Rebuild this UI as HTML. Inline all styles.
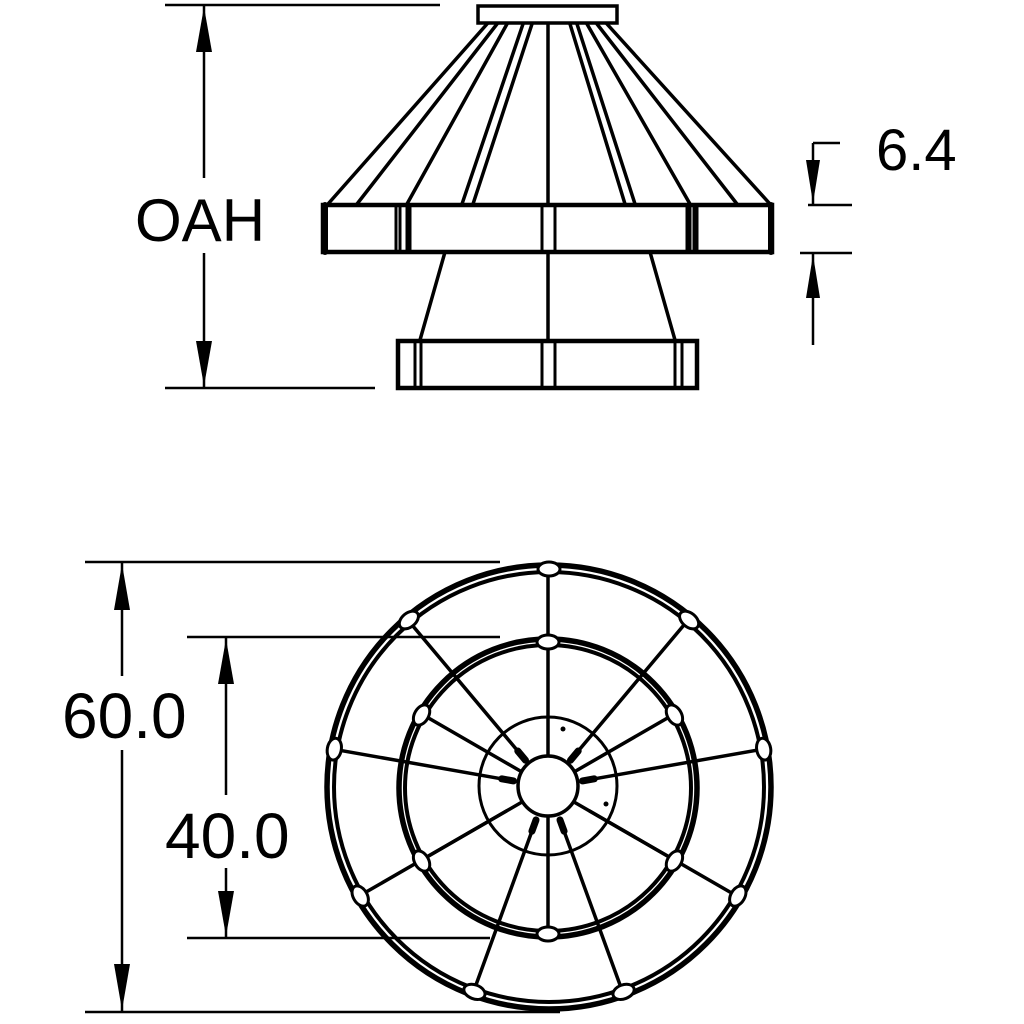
<!DOCTYPE html>
<html><head><meta charset="utf-8"><style>
html,body{margin:0;padding:0;background:#fff;}
svg{display:block;}
text{font-family:"Liberation Sans",sans-serif;fill:#000;}
</style></head><body>
<svg width="1024" height="1024" viewBox="0 0 1024 1024" xmlns="http://www.w3.org/2000/svg">
<rect width="1024" height="1024" fill="#fff"/>
<!-- ELEVATION -->
<g stroke="#000" fill="none" stroke-linecap="round">
  <rect x="478" y="6" width="139" height="17" stroke-width="3.5" fill="#fff"/>
  <g stroke-width="3.5">
    <line x1="487" y1="24" x2="328" y2="204"/>
    <line x1="497" y1="24" x2="357" y2="204"/>
    <line x1="507" y1="24" x2="407" y2="204"/>
    <line x1="523" y1="24" x2="462" y2="204"/>
    <line x1="532" y1="24" x2="473" y2="204"/>
    <line x1="548" y1="24" x2="548" y2="204"/>
    <line x1="570" y1="24" x2="625" y2="204"/>
    <line x1="577" y1="24" x2="635" y2="204"/>
    <line x1="587" y1="24" x2="690" y2="204"/>
    <line x1="597" y1="24" x2="737" y2="204"/>
    <line x1="607" y1="24" x2="770" y2="204"/>
    <line x1="445" y1="252" x2="420" y2="340"/>
    <line x1="548" y1="252" x2="548" y2="340"/>
    <line x1="650" y1="252" x2="675" y2="340"/>
  </g>
  <rect x="323" y="205" width="449" height="47" stroke-width="4.5" fill="none"/>
  <line x1="325" y1="205" x2="325" y2="252" stroke-width="6"/>
  <line x1="771" y1="205" x2="771" y2="252" stroke-width="6"/>
  <g stroke-width="3">
    <line x1="396" y1="205" x2="396" y2="252"/><line x1="400" y1="205" x2="400" y2="252"/>
    <line x1="407" y1="205" x2="407" y2="252"/><line x1="410" y1="205" x2="410" y2="252"/>
    <line x1="542" y1="205" x2="542" y2="252"/><line x1="555" y1="205" x2="555" y2="252"/>
    <line x1="687" y1="205" x2="687" y2="252"/><line x1="690" y1="205" x2="690" y2="252"/>
    <line x1="694" y1="205" x2="694" y2="252"/><line x1="697" y1="205" x2="697" y2="252"/>
  </g>
  <rect x="398" y="341" width="299" height="47" stroke-width="4.5"/>
  <g stroke-width="3">
    <line x1="415" y1="341" x2="415" y2="388"/><line x1="421" y1="341" x2="421" y2="388"/>
    <line x1="542" y1="341" x2="542" y2="388"/><line x1="555" y1="341" x2="555" y2="388"/>
    <line x1="675" y1="341" x2="675" y2="388"/><line x1="682" y1="341" x2="682" y2="388"/>
  </g>
</g>
<!-- dimensions -->
<g stroke="#000" stroke-width="2.5" fill="none">
  <line x1="165" y1="5" x2="440" y2="5"/>
  <line x1="165" y1="388" x2="375" y2="388"/>
  <line x1="204" y1="5" x2="204" y2="178"/>
  <line x1="204" y1="253" x2="204" y2="388"/>
  <line x1="85" y1="562" x2="500" y2="562"/>
  <line x1="85" y1="1012" x2="560" y2="1012"/>
  <line x1="122" y1="562" x2="122" y2="676"/>
  <line x1="122" y1="750" x2="122" y2="1012"/>
  <line x1="187" y1="637" x2="500" y2="637"/>
  <line x1="187" y1="938" x2="490" y2="938"/>
  <line x1="226" y1="637" x2="226" y2="795"/>
  <line x1="226" y1="868" x2="226" y2="938"/>
  <line x1="813" y1="143" x2="840" y2="143"/>
  <line x1="813" y1="143" x2="813" y2="205"/>
  <line x1="808" y1="205" x2="852" y2="205"/>
  <line x1="800" y1="253" x2="852" y2="253"/>
  <line x1="813" y1="253" x2="813" y2="345"/>
</g>
<g fill="#000">
  <polygon points="204,7 196,52 212,52"/>
  <polygon points="204,386 196,341 212,341"/>
  <polygon points="122,564 114,610 130,610"/>
  <polygon points="122,1010 114,964 130,964"/>
  <polygon points="226,639 218,684 234,684"/>
  <polygon points="226,936 218,891 234,891"/>
  <polygon points="813,203 806,160 820,160"/>
  <polygon points="813,255 806,298 820,298"/>
</g>
<text x="135" y="241" font-size="60">OAH</text>
<text x="876" y="170" font-size="58">6.4</text>
<text x="62" y="738" font-size="64">60.0</text>
<text x="165" y="858" font-size="64">40.0</text>
<!-- PLAN VIEW -->
<g stroke="#000" fill="none" stroke-linecap="round">
  <g stroke-width="3.5">
    <line x1="548" y1="787" x2="548" y2="565"/>
    <g transform="rotate(40 548 787)"><line x1="548" y1="739" x2="548" y2="567"/></g>
    <g transform="rotate(-40 548 787)"><line x1="548" y1="739" x2="548" y2="567"/></g>
    <g transform="rotate(80 548 787)"><line x1="548" y1="739" x2="548" y2="567"/></g>
    <g transform="rotate(-80 548 787)"><line x1="548" y1="739" x2="548" y2="567"/></g>
    <g transform="rotate(120 548 787)"><line x1="548" y1="739" x2="548" y2="567"/></g>
    <g transform="rotate(-120 548 787)"><line x1="548" y1="739" x2="548" y2="567"/></g>
    <g transform="rotate(160 548 787)"><line x1="548" y1="739" x2="548" y2="567"/></g>
    <g transform="rotate(-160 548 787)"><line x1="548" y1="739" x2="548" y2="567"/></g>
    <g transform="rotate(60 548 787)"><line x1="548" y1="757" x2="548" y2="640"/></g>
    <g transform="rotate(-60 548 787)"><line x1="548" y1="757" x2="548" y2="640"/></g>
    <g transform="rotate(120 548 787)"><line x1="548" y1="757" x2="548" y2="640"/></g>
    <g transform="rotate(-120 548 787)"><line x1="548" y1="757" x2="548" y2="640"/></g>
    <g transform="rotate(180 548 787)"><line x1="548" y1="757" x2="548" y2="640"/></g>
  </g>
  <g stroke-width="7">
    <g transform="rotate(40 548 787)"><line x1="548" y1="740" x2="548" y2="752"/></g>
    <g transform="rotate(-40 548 787)"><line x1="548" y1="740" x2="548" y2="752"/></g>
    <g transform="rotate(80 548 787)"><line x1="548" y1="740" x2="548" y2="752"/></g>
    <g transform="rotate(-80 548 787)"><line x1="548" y1="740" x2="548" y2="752"/></g>
    <g transform="rotate(160 548 787)"><line x1="548" y1="740" x2="548" y2="752"/></g>
    <g transform="rotate(-160 548 787)"><line x1="548" y1="740" x2="548" y2="752"/></g>
  </g>
  <circle cx="548" cy="786" r="69" stroke-width="3"/>
  <circle cx="548" cy="786" r="30" stroke-width="3.5" fill="#fff"/>
  <circle cx="549" cy="787" r="222" stroke-width="5.5"/>
  <circle cx="549" cy="787" r="215" stroke-width="4"/>
  <circle cx="548" cy="788" r="149" stroke-width="5.5"/>
  <circle cx="548" cy="788" r="143" stroke-width="4"/>
</g>
<g fill="#fff" stroke="#000" stroke-width="3">
  <g transform="rotate(0 549 787)"><ellipse cx="549" cy="569" rx="11" ry="7"/></g>
  <g transform="rotate(40 549 787)"><ellipse cx="549" cy="569" rx="11" ry="7"/></g>
  <g transform="rotate(-40 549 787)"><ellipse cx="549" cy="569" rx="11" ry="7"/></g>
  <g transform="rotate(80 549 787)"><ellipse cx="549" cy="569" rx="11" ry="7"/></g>
  <g transform="rotate(-80 549 787)"><ellipse cx="549" cy="569" rx="11" ry="7"/></g>
  <g transform="rotate(120 549 787)"><ellipse cx="549" cy="569" rx="11" ry="7"/></g>
  <g transform="rotate(-120 549 787)"><ellipse cx="549" cy="569" rx="11" ry="7"/></g>
  <g transform="rotate(160 549 787)"><ellipse cx="549" cy="569" rx="11" ry="7"/></g>
  <g transform="rotate(-160 549 787)"><ellipse cx="549" cy="569" rx="11" ry="7"/></g>
  <g transform="rotate(0 548 788)"><ellipse cx="548" cy="642" rx="11" ry="7"/></g>
  <g transform="rotate(60 548 788)"><ellipse cx="548" cy="642" rx="11" ry="7"/></g>
  <g transform="rotate(-60 548 788)"><ellipse cx="548" cy="642" rx="11" ry="7"/></g>
  <g transform="rotate(120 548 788)"><ellipse cx="548" cy="642" rx="11" ry="7"/></g>
  <g transform="rotate(-120 548 788)"><ellipse cx="548" cy="642" rx="11" ry="7"/></g>
  <g transform="rotate(180 548 788)"><ellipse cx="548" cy="642" rx="11" ry="7"/></g>
</g>
<g fill="#000">
  <circle cx="563" cy="729" r="2.5"/>
  <circle cx="606" cy="804" r="2.5"/>
</g>
</svg>
</body></html>
